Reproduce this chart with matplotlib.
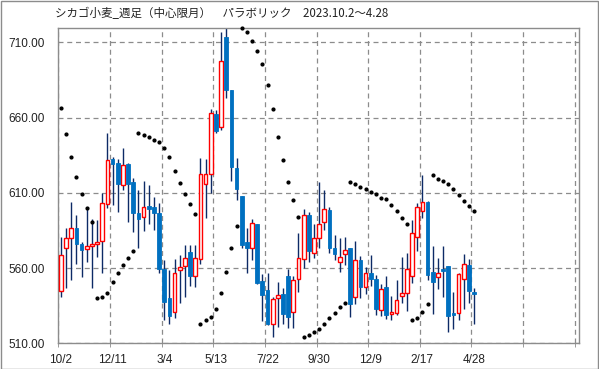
import matplotlib
matplotlib.use("Agg")
import matplotlib.pyplot as plt
from matplotlib.patches import Rectangle
import numpy as np

title = "シカゴ小麦_週足（中心限月）　パラボリック　2023.10.2～4.28"
tick_labels = ["10/2", "12/11", "3/4", "5/13", "7/22", "9/30", "12/9", "2/17", "4/28"]
y_ticks = [510, 560, 610, 660, 710]

opens = [545.0, 573.0, 579.7, 586.3, 575.7, 572.8, 574.9, 575.7, 578.1, 602.3,
         632.4, 629.5, 614.9, 629.1, 617.3, 596.5, 593.6, 601.2, 600.5, 596.5,
         559.2, 540.0, 530.9, 559.0, 561.5, 570.8, 555.0, 565.7, 615.6, 622.2,
         662.1, 653.9, 713.7, 678.3, 626.2, 607.8, 577.2, 573.6, 589.1, 551.3,
         545.3, 523.0, 540.3, 542.5, 554.6, 530.9, 552.4, 565.7, 595.2, 570.1,
         579.7, 590.3, 598.5, 573.2, 564.1, 569.1, 573.0, 540.9, 565.2, 547.5,
         557.0, 552.4, 532.0, 547.3, 529.8, 530.2, 541.5, 543.1, 554.8, 580.8,
         598.1, 603.8, 557.7, 554.2, 559.3, 561.3, 530.0, 530.2, 553.0, 562.0,
         543.8]
highs = [580.5, 586.3, 604.0, 595.2, 577.4, 600.7, 592.9, 591.8, 609.6, 649.5,
         634.0, 632.6, 639.5, 630.0, 620.0, 611.8, 617.8, 615.1, 607.4, 603.4,
         565.2, 559.0, 566.0, 568.6, 575.0, 575.2, 575.2, 633.3, 632.4, 665.6,
         665.0, 717.1, 720.4, 678.5, 632.8, 608.0, 586.9, 592.5, 589.5, 556.0,
         556.4, 540.9, 551.0, 547.0, 559.7, 554.5, 583.2, 599.5, 597.0, 589.6,
         617.5, 611.8, 600.7, 582.0, 580.0, 580.3, 573.5, 577.8, 567.9, 560.4,
         569.0, 555.3, 549.7, 555.0, 541.5, 552.0, 567.2, 569.7, 592.0, 603.4,
         621.8, 604.5, 574.6, 567.0, 574.6, 561.5, 544.2, 556.8, 569.2, 566.3,
         546.7]
lows = [540.9, 546.8, 551.9, 563.0, 554.2, 564.1, 546.8, 567.5, 556.4, 600.0,
        602.0, 597.4, 611.8, 590.7, 584.1, 573.0, 584.5, 589.6, 585.0, 557.0,
        525.4, 523.0, 527.0, 537.0, 541.0, 548.0, 547.5, 563.0, 593.4, 609.6,
        649.5, 651.5, 673.2, 617.8, 605.1, 573.0, 557.0, 565.5, 549.7, 524.8,
        522.0, 514.3, 520.5, 523.0, 520.0, 520.4, 544.2, 560.2, 564.0, 566.8,
        573.5, 585.0, 569.7, 565.2, 557.5, 562.0, 527.6, 536.0, 539.8, 542.6,
        548.0, 528.7, 528.0, 526.0, 525.6, 528.7, 537.0, 531.6, 550.0, 571.5,
        593.0, 552.0, 529.8, 546.2, 541.0, 517.8, 519.8, 525.8, 533.0, 537.0,
        523.1]
closes = [568.5, 579.7, 586.3, 575.7, 571.9, 574.8, 575.9, 577.2, 602.9, 631.7,
          629.1, 615.8, 628.4, 615.8, 596.3, 592.8, 600.3, 599.3, 596.7, 559.7,
          537.6, 528.3, 556.5, 560.4, 567.0, 555.0, 567.0, 622.2, 622.2, 663.2,
          651.0, 697.6, 678.3, 627.3, 612.5, 575.2, 573.6, 590.2, 550.2, 542.0,
          523.0, 539.2, 542.3, 529.5, 527.6, 551.8, 567.0, 595.2, 571.0, 579.7,
          589.6, 599.0, 573.0, 569.1, 567.5, 572.2, 536.2, 565.2, 547.5, 557.0,
          552.4, 532.8, 546.4, 528.9, 530.8, 538.5, 543.6, 559.7, 583.0, 600.5,
          604.2, 555.3, 550.9, 556.9, 558.2, 528.2, 528.9, 555.8, 562.4, 544.8,
          543.0]
sar = [666.5, 648.8, 633.5, 620.2, 609.1, 599.6, 590.7, 539.8, 540.9, 543.7,
       550.4, 556.4, 561.7, 567.0, 571.5, 649.5, 648.2, 646.8, 644.8, 643.5,
       640.0, 633.5, 624.4, 616.2, 609.0, 602.4, 595.7, 523.1, 525.4, 527.6,
       533.1, 543.1, 557.2, 573.0, 588.1, 719.8, 717.1, 710.6, 704.4, 695.3,
       681.4, 665.4, 647.3, 631.5, 617.5, 605.0, 594.1, 514.5, 515.6, 517.8,
       519.3, 523.1, 527.0, 530.4, 533.8, 536.9, 617.3, 615.6, 613.6, 612.2,
       610.2, 609.1, 606.8, 605.6, 602.1, 597.6, 593.5, 589.6, 525.6, 527.1,
       530.5, 536.0, 621.8, 619.5, 617.8, 615.8, 612.4, 608.4, 604.5, 601.0,
       597.6]

W, H = 599, 369
fig = plt.figure(figsize=(W / 100, H / 100), dpi=100)
fig.patch.set_facecolor("white")
fig.add_artist(Rectangle((0.5 / W, 0.5 / H), (W - 1.5) / W, (H - 1.5) / H,
                         transform=fig.transFigure, fill=False,
                         edgecolor="#8c8c8c", linewidth=1.0))

ax = fig.add_axes([58.4 / W, (H - 343.3) / H, (579 - 58.4) / W, (343.3 - 28) / H])
n = len(opens)
x = np.arange(n)
o = np.array(opens); c = np.array(closes)
hi = np.array(highs); lo = np.array(lows)
up = c >= o

ax.vlines(x, lo, hi, color="#0d2a66", linewidth=1.0, zorder=2)
bw = 0.72
ax.bar(x[up], (c - o)[up], bottom=o[up], width=bw, facecolor="white",
       edgecolor="#ff0000", linewidth=1.0, zorder=3)
ax.bar(x[~up], (o - c)[~up], bottom=c[~up], width=bw, facecolor="#0070c0",
       edgecolor="#0070c0", linewidth=0.6, zorder=3)
ax.plot(x, sar, linestyle="none", marker="o", markersize=2.0,
        color="black", zorder=4, clip_on=False)

ax.set_xlim(-0.5, 100.33)
ax.set_ylim(510, 719.5)
ax.set_yticks(y_ticks)
ax.set_yticklabels([f"{v:.2f}" for v in y_ticks])
ax.set_xticks(np.arange(0, 81, 10))
ax.set_xticklabels(tick_labels)
ax.set_xticks(np.arange(-0.5, 100, 10), minor=True)
ax.tick_params(axis="x", which="major", length=0, pad=8, labelsize=8.5, colors="#222222")
ax.tick_params(axis="x", which="minor", length=3, color="#8c8c8c")
ax.tick_params(axis="y", length=0, pad=10, labelsize=8.5, colors="#222222")
for lab in ax.get_xticklabels() + ax.get_yticklabels():
    lab.set_family(["Liberation Sans", "DejaVu Sans"])
ax.grid(True, axis="y", which="major", color="#8c8c8c", linestyle=(0, (4, 3)), linewidth=0.9)
ax.grid(True, axis="x", which="minor", color="#8c8c8c", linestyle=(0, (4, 3)), linewidth=0.9)
ax.set_axisbelow(True)
for s in ax.spines.values():
    s.set_color("#8c8c8c")
    s.set_linewidth(1.0)

fig.text(55 / W, 1 - 14 / H, title, ha="left", va="center", fontsize=8.3,
         family=["Noto Sans CJK JP", "DejaVu Sans"], color="#222222")

fig.savefig("out.png", dpi=100)
